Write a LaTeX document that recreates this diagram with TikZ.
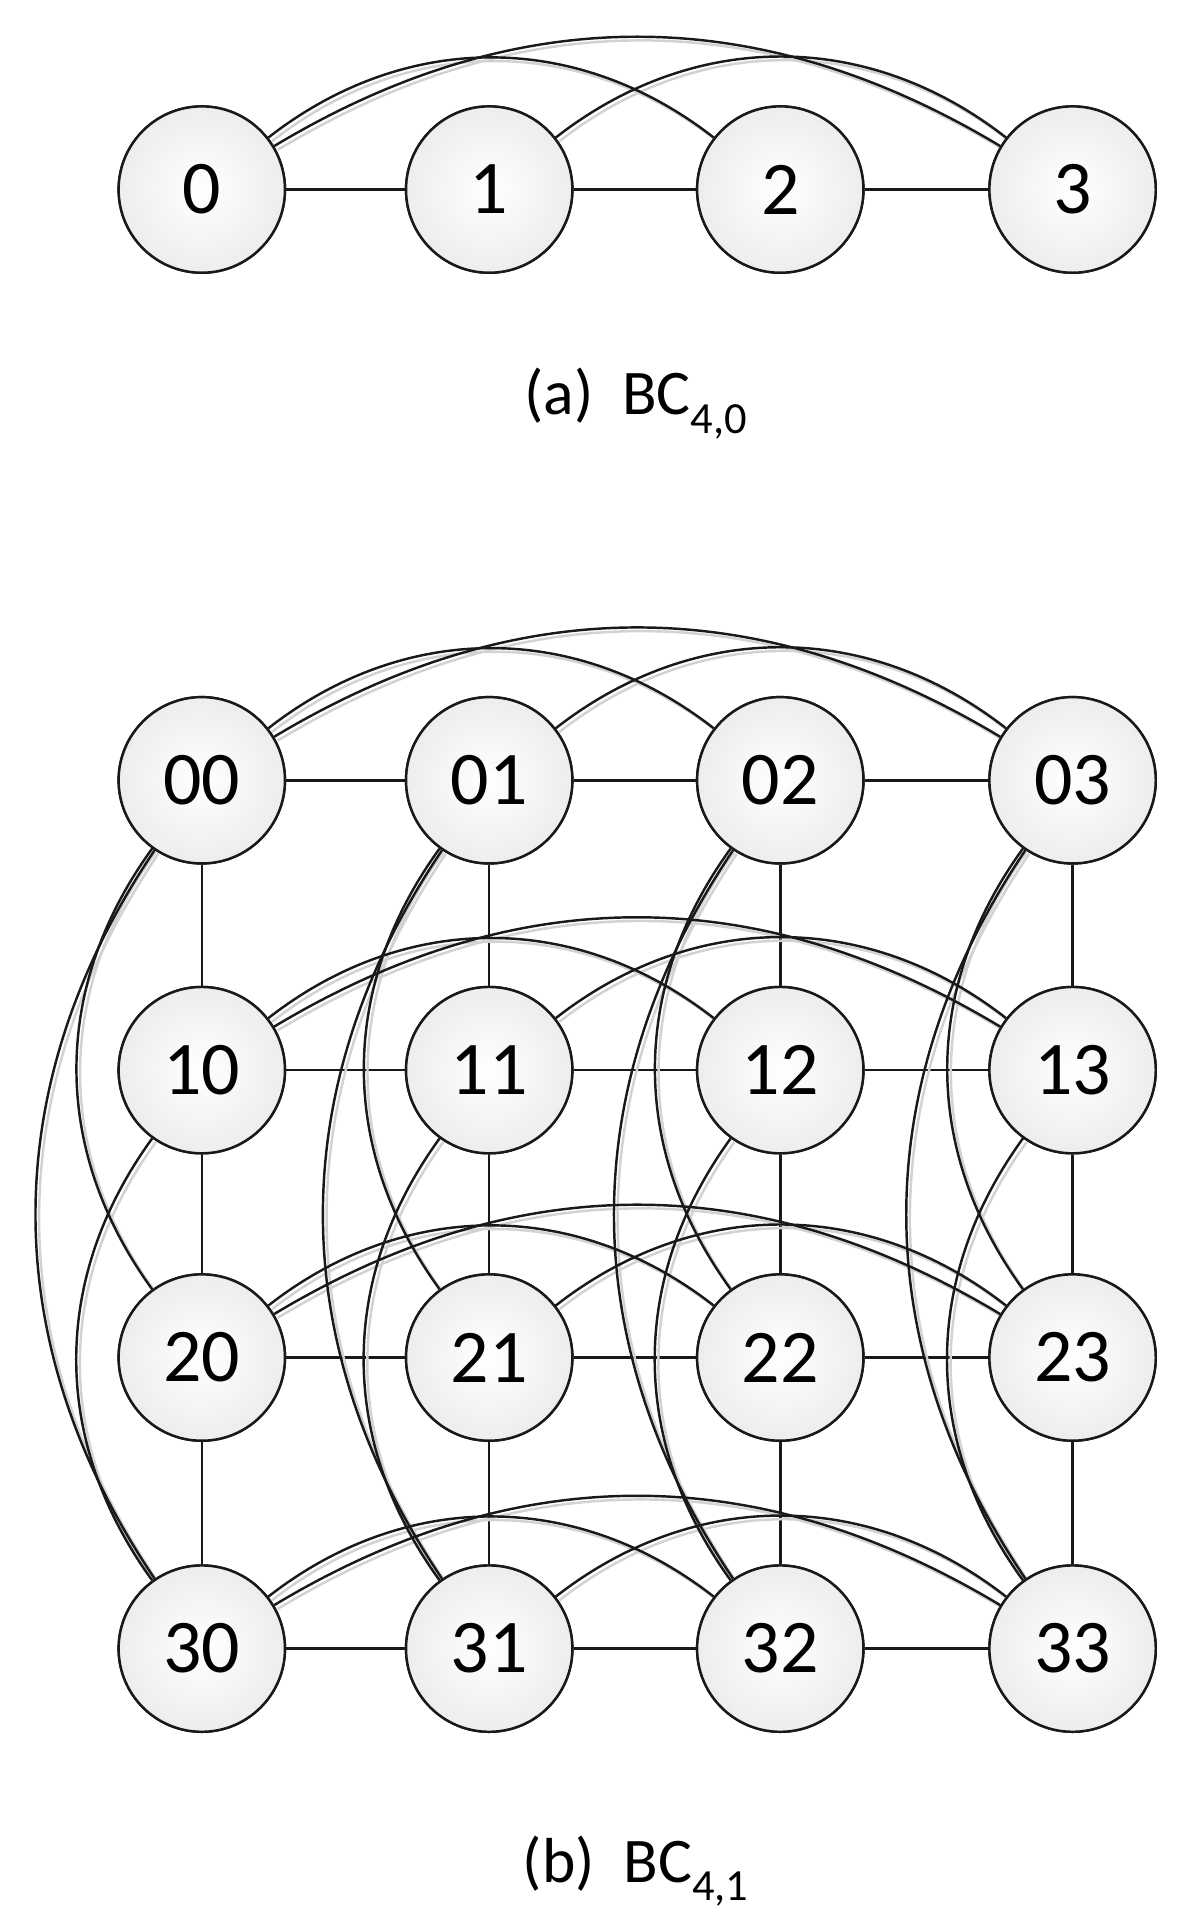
\documentclass[tikz,border=0pt]{standalone}
\usepackage{fontspec}
\setmainfont{Carlito}
\begin{document}
\begin{tikzpicture}[x=1pt,y=-1pt,
  vert/.style={circle,draw=black!90,line width=2pt,minimum size=136pt,inner sep=0pt,
    inner color=white,outer color=gray!14,font=\fontsize{62}{64}\selectfont},
  edge/.style={line width=2pt,black!90},
  ghostedge/.style={line width=2pt,gray!35,transform canvas={xshift=3pt,yshift=-3pt}},
  captext/.style={font=\fontsize{52}{54}\selectfont}]
\useasboundingbox (0,0) rectangle (975,1565);
% (a)
\foreach \i/\x in {0/165,1/400,2/638,3/877}{\node[vert] (a\i) at (\x,155) {\i};}
\foreach \a/\b in {0/1,1/2,2/3}{\draw[edge] (a\a) -- (a\b);}
\foreach \s in {ghostedge,edge}{
  \draw[\s] (a0) to[bend left=38] (a2);
  \draw[\s] (a1) to[bend left=38] (a3);
  \draw[\s] (a0) to[bend left=31] (a3);}
\node[captext] (capa) at (520,330) {(a)\ \ BC\textsubscript{4,0}};
% (b)
\foreach \r/\y in {0/638,1/875,2/1110,3/1348}{
  \foreach \c/\x in {0/165,1/400,2/638,3/877}{\node[vert] (b\r\c) at (\x,\y) {\r\c};}}
\foreach \r in {0,1,2,3}{
  \foreach \a/\b in {0/1,1/2,2/3}{\draw[edge] (b\r\a) -- (b\r\b); \draw[edge] (b\a\r) -- (b\b\r);}}
\foreach \s in {ghostedge,edge}{
 \foreach \r in {0,1,2,3}{
  \draw[\s] (b\r0) to[bend left=38] (b\r2);
  \draw[\s] (b\r1) to[bend left=38] (b\r3);
  \draw[\s] (b\r0) to[bend left=31] (b\r3);
  \draw[\s] (b0\r) to[bend right=36] (b2\r);
  \draw[\s] (b1\r) to[bend right=36] (b3\r);
  \draw[\s] (b0\r) to[bend right=34] (b3\r);}}
\foreach \r/\y in {0/638,1/875,2/1110,3/1348}{
  \foreach \c/\x in {0/165,1/400,2/638,3/877}{\node[vert] at (b\r\c) {\r\c};}}
\foreach \i/\x in {0/165,1/400,2/638,3/877}{\node[vert] at (a\i) {\i};}
\node[captext] (capb) at (520,1530) {(b)\ \ BC\textsubscript{4,1}};
\end{tikzpicture}
\end{document}
